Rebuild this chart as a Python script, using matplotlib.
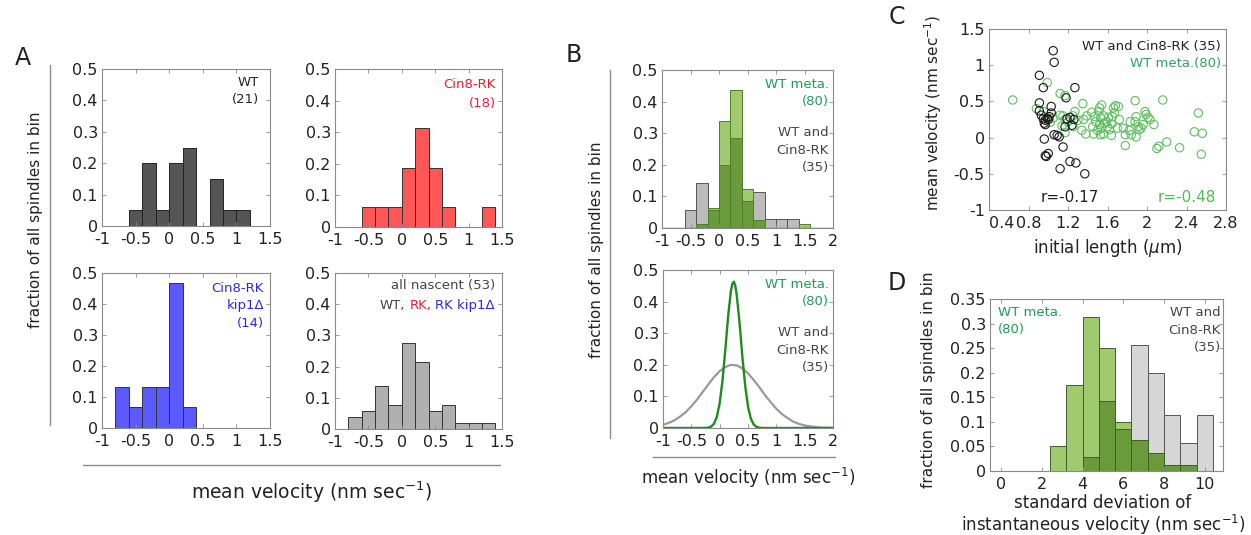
"""
Spindle velocity figure: histograms (A, B, D), fitted curves (B) and scatter (C).
"""
import numpy as np
import matplotlib
matplotlib.use('Agg')
import matplotlib.pyplot as plt

plt.rcParams['font.family'] = ['DejaVu Sans']
plt.rcParams['axes.unicode_minus'] = False
plt.rcParams['mathtext.fontset'] = 'dejavusans'

W, H = 1251, 535

# ---------------- data ----------------
# panel A: mean velocity histograms, bins of 0.2 nm/s from -0.8 to 1.4
vel_edges_A = [-0.8, -0.6, -0.4, -0.2, 0.0, 0.2, 0.4, 0.6, 0.8, 1.0, 1.2, 1.4]
wt_frac = [0, 0.05, 0.20, 0.05, 0.20, 0.25, 0, 0.15, 0.05, 0.05, 0]
rk_frac = [0, 0.0625, 0.0625, 0.0625, 0.1875, 0.3125, 0.1875, 0.0625, 0, 0, 0.0625]
rk_kip1_frac = [0.133, 0.067, 0.133, 0.133, 0.467, 0.067, 0, 0, 0, 0, 0]
nascent_frac = [0.039, 0.059, 0.137, 0.078, 0.275, 0.216, 0.059, 0.078, 0.020, 0.020, 0.020]

# panel B top: WT + Cin8-RK (35) vs WT metaphase (80)
vel_edges_B = [-0.6, -0.4, -0.2, 0.0, 0.2, 0.4, 0.6, 0.8, 1.0, 1.2, 1.4, 1.6]
nascent35_frac = [0.057, 0.143, 0.057, 0.200, 0.286, 0.086, 0.114, 0.029, 0.029, 0.029, 0]
meta_frac = [0, 0.0125, 0.0625, 0.3375, 0.4375, 0.125, 0.025, 0, 0, 0, 0.0125]

# panel B bottom: fitted curves
nascent_fit_x = [-1.0, -0.9, -0.8, -0.7, -0.6, -0.5, -0.4, -0.3, -0.2, -0.1, 0.0,
                 0.1, 0.2, 0.3, 0.4, 0.5, 0.6, 0.7, 0.8, 0.9, 1.0, 1.1, 1.2,
                 1.3, 1.4, 1.5, 1.6, 1.7, 1.8, 1.9, 2.0]
nascent_fit_y = [0.010, 0.016, 0.024, 0.036, 0.050, 0.069, 0.090, 0.114, 0.138, 0.161, 0.180,
                 0.193, 0.200, 0.198, 0.189, 0.173, 0.152, 0.129, 0.104, 0.082, 0.061, 0.044, 0.031,
                 0.020, 0.013, 0.008, 0.005, 0.003, 0.001, 0.001, 0.000]
meta_fit_x = [-1.0, -0.3, -0.25, -0.2, -0.15, -0.1, -0.05, 0.0, 0.05, 0.1, 0.15, 0.2,
              0.225, 0.25, 0.275, 0.3, 0.35, 0.4, 0.45, 0.5, 0.55, 0.6, 0.65, 0.7,
              0.75, 0.8, 2.0]
meta_fit_y = [0.0, 0.0001, 0.0003, 0.0013, 0.0046, 0.0137, 0.0353, 0.0784, 0.150, 0.249, 0.355, 0.436,
              0.457, 0.463, 0.451, 0.423, 0.334, 0.227, 0.134, 0.0676, 0.0295, 0.0111, 0.0036, 0.001,
              0.0002, 0.0, 0.0]

# panel C: initial length (um) vs mean velocity (nm/s)
nascent_len = [1.05, 1.06, 0.91, 0.95, 1.27, 1.18, 0.91, 1.03, 0.91, 1.03, 0.93, 0.95,
               0.97, 0.99, 1.01, 1.00, 0.96, 0.97, 1.22, 1.19, 1.26, 1.17, 1.24, 1.06,
               1.09, 1.11, 0.96, 1.15, 0.97, 1.00, 0.98, 1.12, 1.22, 1.28, 1.37]
nascent_vel = [1.20, 1.04, 0.86, 0.69, 0.69, 0.55, 0.48, 0.43, 0.37, 0.34, 0.31, 0.26,
               0.24, 0.27, 0.29, 0.25, 0.20, 0.18, 0.28, 0.26, 0.25, 0.15, 0.17, 0.04,
               0.03, 0.01, -0.02, -0.13, -0.25, -0.22, -0.26, -0.43, -0.33, -0.35, -0.50]
meta_len = [0.64, 0.88, 0.99, 1.12, 1.17, 0.95, 1.05, 1.12, 1.15, 1.17, 1.20, 1.25,
            1.27, 1.25, 1.17, 1.30, 1.02, 1.14, 1.35, 1.39, 1.36, 1.38, 1.47, 1.45,
            1.46, 1.51, 1.52, 1.54, 1.53, 1.52, 1.54, 1.56, 1.53, 1.57, 1.61, 1.59,
            1.66, 1.68, 1.71, 1.67, 1.65, 1.72, 1.64, 1.62, 1.64, 1.78, 1.76, 1.78,
            1.83, 1.84, 1.88, 1.89, 1.91, 1.92, 1.94, 1.89, 1.96, 1.99, 2.01, 2.03,
            2.07, 1.98, 2.16, 2.10, 2.12, 2.20, 2.33, 2.52, 2.48, 2.56, 2.55, 1.48,
            1.50, 1.56, 1.60, 1.70, 1.82, 1.88, 1.44, 1.34]
meta_vel = [0.52, 0.40, 0.76, 0.61, 0.58, 0.36, 0.27, 0.31, 0.30, 0.25, 0.22, 0.30,
            0.36, 0.15, 0.07, 0.24, 0.21, 0.16, 0.47, 0.30, 0.25, 0.05, 0.29, 0.15,
            0.05, 0.36, 0.41, 0.45, 0.27, 0.18, 0.13, 0.05, 0.04, 0.20, 0.28, 0.22,
            0.41, 0.44, 0.43, 0.34, 0.29, 0.25, 0.19, 0.11, 0.03, -0.11, 0.13, 0.04,
            0.22, 0.04, 0.51, 0.29, 0.15, 0.11, 0.13, 0.01, 0.18, 0.32, 0.28, 0.25,
            0.18, 0.36, 0.52, -0.15, -0.12, -0.06, -0.14, 0.34, 0.08, 0.06, -0.23, 0.22,
            0.10, 0.30, 0.15, 0.13, 0.10, 0.22, 0.35, 0.10]

# panel D: standard deviation of instantaneous velocity, bins of 0.8 nm/s
sd_edges = [0.0, 0.8, 1.6, 2.4, 3.2, 4.0, 4.8, 5.6, 6.4, 7.2, 8.0, 8.8, 9.6, 10.4]
sd_meta_frac = [0, 0, 0, 0.05, 0.175, 0.3125, 0.25, 0.10, 0.0625, 0.0375, 0.0125, 0.0125, 0]
sd_nascent_frac = [0, 0, 0, 0, 0, 0.0286, 0.143, 0.0857, 0.257, 0.200, 0.114, 0.057, 0.114]

# ---------------- style ----------------
TXT = '#222222'
AX_GRAY = '#8a8a8a'
LINE_GRAY = '#8c8c8c'
WT_GRAY = '#555555'
RK_RED = '#ff5757'
KIP_BLUE = '#5a5aff'
NASCENT_GRAY = '#b0b0b0'
LIGHT_GREEN = '#9fca6e'
DARK_GREEN = '#6b9a3b'
GREEN_EDGE = '#4f7f2c'
LABEL_GREEN = '#1f9a5a'
TICK_FS = 11.5
NOTE_FS = 9.5
YLABEL_FS = 11


def px_axes(fig, left, top, right, bottom):
    return fig.add_axes([left / W, 1 - bottom / H, (right - left) / W, (bottom - top) / H])


def ftext(fig, x, y, s, **kw):
    kw.setdefault('color', TXT)
    kw.setdefault('va', 'center')
    return fig.text(x / W, 1 - y / H, s, **kw)


def fline(fig, xs, ys):
    fig.add_artist(plt.Line2D([x / W for x in xs], [1 - y / H for y in ys],
                              color=LINE_GRAY, linewidth=1.0))


def style_axes(ax, xlim, ylim, xticks, yticks):
    ax.set_xlim(xlim)
    ax.set_ylim(ylim)
    ax.set_xticks(xticks)
    ax.set_yticks(yticks)
    ax.set_xticklabels([f'{t:g}' for t in xticks])
    ax.set_yticklabels([f'{t:g}' for t in yticks])
    ax.tick_params(direction='in', length=3, width=0.6, color=AX_GRAY,
                   top=True, right=True, labelsize=TICK_FS, labelcolor=TXT)
    ax.tick_params(axis='y', pad=3)
    ax.tick_params(axis='x', pad=4)
    for sp in ax.spines.values():
        sp.set_color(AX_GRAY)
        sp.set_linewidth(0.8)


def hist_bars(ax, edges, heights, color, edgecolor='#333333'):
    lefts = np.array(edges[:-1])
    widths = np.diff(edges)
    h = np.array(heights)
    keep = h > 0
    ax.bar(lefts[keep], h[keep], width=widths[keep], align='edge',
           color=color, edgecolor=edgecolor, linewidth=0.7)


fig = plt.figure(figsize=(W / 100, H / 100), dpi=100)

vel_ticks_A = [-1, -0.5, 0, 0.5, 1, 1.5]
frac_ticks = [0, 0.1, 0.2, 0.3, 0.4, 0.5]

# ---------------- panel A ----------------
axA1 = px_axes(fig, 102, 69, 270, 226)
hist_bars(axA1, vel_edges_A, wt_frac, WT_GRAY, '#222222')
style_axes(axA1, (-1, 1.5), (0, 0.5), vel_ticks_A, frac_ticks)
ftext(fig, 259, 82, 'WT', ha='right', fontsize=NOTE_FS)
ftext(fig, 259, 100, '(21)', ha='right', fontsize=NOTE_FS)

axA2 = px_axes(fig, 335, 69, 502, 227)
hist_bars(axA2, vel_edges_A, rk_frac, RK_RED)
style_axes(axA2, (-1, 1.5), (0, 0.5), vel_ticks_A, frac_ticks)
ftext(fig, 496, 85, 'Cin8-RK', ha='right', fontsize=NOTE_FS, color='#e8202a')
ftext(fig, 496, 103, '(18)', ha='right', fontsize=NOTE_FS, color='#e8202a')

axA3 = px_axes(fig, 102, 273, 270, 428)
hist_bars(axA3, vel_edges_A, rk_kip1_frac, KIP_BLUE)
style_axes(axA3, (-1, 1.5), (0, 0.5), vel_ticks_A, frac_ticks)
for y, s in zip([288, 306, 324], ['Cin8-RK', 'kip1Δ', '(14)']):
    ftext(fig, 264, y, s, ha='right', fontsize=NOTE_FS, color='#2a2ae6')

axA4 = px_axes(fig, 335, 273, 502, 429)
hist_bars(axA4, vel_edges_A, nascent_frac, NASCENT_GRAY)
style_axes(axA4, (-1, 1.5), (0, 0.5), vel_ticks_A, frac_ticks)
ftext(fig, 495, 285, 'all nascent (53)', ha='right', fontsize=NOTE_FS, color='#444444')
renderer = fig.canvas.get_renderer()
gap = 0.318 * NOTE_FS * 100 / 72
x = 495
for s, c in [('RK kip1Δ', '#2a2ae6'), ('RK,', '#e8202a'), ('WT,', '#444444')]:
    t = ftext(fig, x, 305, s, ha='right', fontsize=NOTE_FS, color=c)
    x -= t.get_window_extent(renderer=renderer).width + gap

ftext(fig, 23, 58, 'A', ha='center', fontsize=17)
ftext(fig, 36, 220, 'fraction of all spindles in bin', ha='center',
      rotation=90, fontsize=YLABEL_FS)
fline(fig, [50, 50], [65, 425])
fline(fig, [83, 500], [465, 465])
ftext(fig, 312, 492, 'mean velocity (nm sec$^{-1}$)', ha='center', fontsize=13.5)

# ---------------- panel B ----------------
vel_ticks_B = [-1, -0.5, 0, 0.5, 1, 1.5, 2]

axB1 = px_axes(fig, 662, 70, 833, 228)
axB1.axhline(0, color=GREEN_EDGE, linewidth=1.0)
hist_bars(axB1, vel_edges_B, nascent35_frac, '#bcbcbe', '#555555')
hist_bars(axB1, vel_edges_B, meta_frac, LIGHT_GREEN, GREEN_EDGE)
hist_bars(axB1, vel_edges_B, np.minimum(nascent35_frac, meta_frac), DARK_GREEN, GREEN_EDGE)
style_axes(axB1, (-1, 2), (0, 0.5), vel_ticks_B, frac_ticks)

axB2 = px_axes(fig, 663, 270, 833, 428)
axB2.plot(nascent_fit_x, nascent_fit_y, color='#9a9a9a', linewidth=1.6)
axB2.plot(meta_fit_x, meta_fit_y, color='#1e8c1e', linewidth=1.7)
style_axes(axB2, (-1, 2), (0, 0.5), vel_ticks_B, frac_ticks)

for top in (70, 270):
    ftext(fig, 829, top + 14, 'WT meta.', ha='right', fontsize=NOTE_FS, color=LABEL_GREEN)
    ftext(fig, 829, top + 31, '(80)', ha='right', fontsize=NOTE_FS, color=LABEL_GREEN)
    ftext(fig, 829, top + 62, 'WT and', ha='right', fontsize=NOTE_FS, color='#444444')
    ftext(fig, 829, top + 80, 'Cin8-RK', ha='right', fontsize=NOTE_FS, color='#444444')
    ftext(fig, 829, top + 98, '(35)', ha='right', fontsize=NOTE_FS, color='#444444')

ftext(fig, 574, 55, 'B', ha='center', fontsize=17)
ftext(fig, 596, 250, 'fraction of all spindles in bin', ha='center',
      rotation=90, fontsize=YLABEL_FS)
fline(fig, [610, 610], [70, 438])
fline(fig, [653, 835], [457, 457])
ftext(fig, 748, 478, 'mean velocity (nm sec$^{-1}$)', ha='center', fontsize=12)

# ---------------- panel C ----------------
axC = px_axes(fig, 989, 29, 1226, 210)
axC.scatter(meta_len, meta_vel, s=36, facecolors='none', edgecolors='#5cc05c', linewidths=0.8)
axC.scatter(nascent_len, nascent_vel, s=36, facecolors='none', edgecolors='#1a1a1a', linewidths=0.8)
style_axes(axC, (0.4, 2.8), (-1, 1.5), [0.4, 0.8, 1.2, 1.6, 2.0, 2.4, 2.8],
           [-1, -0.5, 0, 0.5, 1, 1.5])
axC.get_xticklabels()[0].set_horizontalalignment('left')
ftext(fig, 1221, 47, 'WT and Cin8-RK (35)', ha='right', fontsize=NOTE_FS)
ftext(fig, 1221, 63, 'WT meta.(80)', ha='right', fontsize=NOTE_FS, color='#2ca25f')
ftext(fig, 1070, 197, 'r=-0.17', ha='center', fontsize=11)
ftext(fig, 1216, 197, 'r=-0.48', ha='right', fontsize=11, color='#4cbf4c')

ftext(fig, 897, 17, 'C', ha='center', fontsize=17)
ftext(fig, 933, 113, 'mean velocity (nm sec$^{-1}$)', ha='center',
      rotation=90, fontsize=YLABEL_FS)
ftext(fig, 1108, 248, 'initial length ($\\mu$m)', ha='center', fontsize=12)

# ---------------- panel D ----------------
axD = px_axes(fig, 990, 299, 1223, 471)
sd_lefts = np.array(sd_edges[:-1])
sd_width = np.diff(sd_edges)
axD.bar(sd_lefts, sd_nascent_frac, width=sd_width, align='edge',
        color='#d6d6d6', edgecolor='#555555', linewidth=0.7)
axD.bar(sd_lefts, sd_meta_frac, width=sd_width, align='edge',
        color=LIGHT_GREEN, edgecolor='#3f5f2a', linewidth=0.7)
axD.bar(sd_lefts, np.minimum(sd_meta_frac, sd_nascent_frac), width=sd_width, align='edge',
        color=DARK_GREEN, edgecolor='#3f5f2a', linewidth=0.7)
style_axes(axD, (-0.55, 10.9), (0, 0.35), [0, 2, 4, 6, 8, 10],
           [0, 0.05, 0.1, 0.15, 0.2, 0.25, 0.3, 0.35])
ftext(fig, 998, 312, 'WT meta.', ha='left', fontsize=NOTE_FS, color=LABEL_GREEN)
ftext(fig, 998, 330, '(80)', ha='left', fontsize=NOTE_FS, color=LABEL_GREEN)
ftext(fig, 1221, 312, 'WT and', ha='right', fontsize=NOTE_FS, color='#444444')
ftext(fig, 1221, 330, 'Cin8-RK', ha='right', fontsize=NOTE_FS, color='#444444')
ftext(fig, 1221, 348, '(35)', ha='right', fontsize=NOTE_FS, color='#444444')

ftext(fig, 897, 283, 'D', ha='center', fontsize=17)
ftext(fig, 928, 380, 'fraction of all spindles in bin', ha='center',
      rotation=90, fontsize=YLABEL_FS)
ftext(fig, 1103, 503, 'standard deviation of', ha='center', fontsize=12)
ftext(fig, 1103, 525, 'instantaneous velocity (nm sec$^{-1}$)', ha='center', fontsize=12)

fig.savefig('out.png', dpi=100)
